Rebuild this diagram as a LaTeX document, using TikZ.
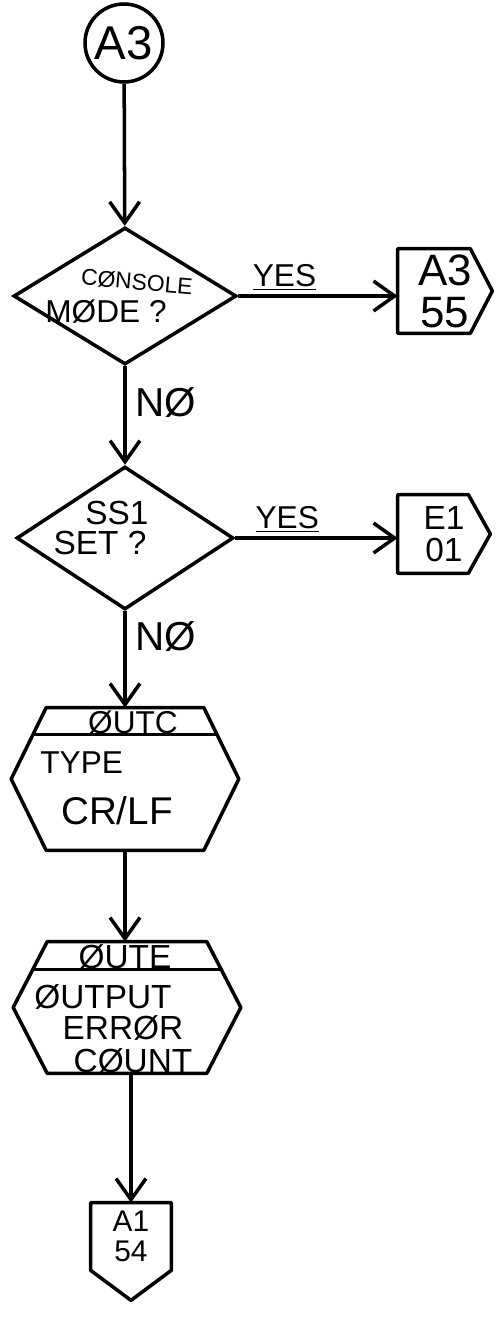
\documentclass[tikz,border=0pt]{standalone}
\usepackage{fontspec}
\setmainfont{Liberation Sans}
\usepackage{tikz}
\usetikzlibrary{arrows.meta, positioning, shapes.geometric, calc}

\begin{document}
\begin{tikzpicture}[
  x=0.02cm, y=-0.02cm,
  outline/.style={line width=2pt, line join=round},
  flow/.style={-{Straight Barb[length=12pt, width=17pt]}, line width=2pt},
  term/.style={
    circle, draw, line width=2pt, minimum size=1.56cm, inner sep=0pt,
    font=\fontsize{27}{30}\selectfont},
  decide/.style={diamond, draw, line width=2pt, inner sep=0pt},
  frame/.style={rectangle, inner sep=0pt, align=center},
  ans/.style={font=\fontsize{18}{20}\selectfont, inner sep=2pt},
  no/.style={font=\fontsize{23}{25}\selectfont, inner sep=5pt},
  txt/.style={
    font=\fontsize{19}{21}\selectfont, inner sep=0pt,
    text height=13.5pt, text depth=0pt},
  hdr/.style={font=\fontsize{18}{20}\selectfont, inner sep=0pt, anchor=base},
]
  \useasboundingbox (0,0) rectangle (498,1332);

  %% ─── ENTRY ───────────────────────────────────────────────────────────
  \node[term] (a3) at (124,43) {A3};

  %% ─── CONSOLE MODE ? ──────────────────────────────────────────────────
  \node[decide, minimum width=4.46cm, minimum height=2.74cm] (d1) at (125,296) {};
  \node[txt, font=\fontsize{13}{15}\selectfont, text height=10pt, rotate=-5]
    (d1a) at (137,281) {CØNSOLE};
  \node[txt, font=\fontsize{18}{20}\selectfont, text height=13pt]
    (d1b) at (106,311) {MØDE ?};

  \node[frame, minimum width=1.88cm, minimum height=1.68cm,
    font=\fontsize{25}{24}\selectfont] (c1) at (445,291) {A3\\55};
  \draw[outline] (c1.north west) -- ($(c1.north east)+(-22,0)$) -- (c1.east)
    -- ($(c1.south east)+(-22,0)$) -- (c1.south west) -- cycle;

  \draw[flow] (a3) -- (d1);
  \draw[flow] (d1.east) -- node[ans, above, pos=0.29] (y1) {\underline{YES}}
    (d1.east -| c1.west);

  %% ─── SS1 SET ? ───────────────────────────────────────────────────────
  \node[decide, minimum width=4.34cm, minimum height=2.86cm] (d2) at (125,538) {};
  \node[txt] (d2a) at (117,513) {SS1};
  \node[txt] (d2b) at (100,543) {SET ?};

  \node[frame, minimum width=1.84cm, minimum height=1.56cm,
    font=\fontsize{19}{18}\selectfont] (c2) at (444,534) {E1\\01};
  \draw[outline] (c2.north west) -- ($(c2.north east)+(-22,0)$) -- (c2.east)
    -- ($(c2.south east)+(-22,0)$) -- (c2.south west) -- cycle;

  \draw[flow] (d1) -- node[no, right, pos=0.37] (n1) {NØ} (d2);
  \draw[flow] (d2.east) -- node[ans, above, pos=0.32] (y2) {\underline{YES}}
    (d2.east -| c2.west);

  %% ─── OUTC: type CR/LF ────────────────────────────────────────────────
  \node[frame, minimum width=4.54cm, minimum height=2.84cm] (h1) at (125,779) {};
  \draw[outline] (h1.west) -- ($(h1.north west)+(35,0)$) -- ($(h1.north east)+(-35,0)$)
    -- (h1.east) -- ($(h1.south east)+(-35,0)$) -- ($(h1.south west)+(35,0)$) -- cycle;
  \draw[outline] ($(h1.north west)+(21.7,27)$) -- ($(h1.north east)+(-21.7,27)$);
  \node[hdr] (h1a) at (133,733) {ØUTC};
  \node[txt, font=\fontsize{18}{20}\selectfont, anchor=west] (h1b) at (40,762) {TYPE};
  \node[txt, font=\fontsize{22}{24}\selectfont, text height=16pt] (h1c) at (117,810) {CR/LF};

  \draw[flow] (d2) -- node[no, right, pos=0.26] (n2) {NØ} (h1);

  %% ─── OUTE: output error count ────────────────────────────────────────
  \node[frame, minimum width=4.54cm, minimum height=2.62cm] (h2) at (127,1007.5) {};
  \draw[outline] (h2.west) -- ($(h2.north west)+(34,0)$) -- ($(h2.north east)+(-34,0)$)
    -- (h2.east) -- ($(h2.south east)+(-34,0)$) -- ($(h2.south west)+(34,0)$) -- cycle;
  \draw[outline] ($(h2.north west)+(19.5,28)$) -- ($(h2.north east)+(-19.5,28)$);
  \node[hdr, font=\fontsize{19}{21}\selectfont] (h2a) at (125,968) {ØUTE};
  \node[txt] (h2b) at (103,997) {ØUTPUT};
  \node[txt] (h2c) at (123,1028) {ERRØR};
  \node[txt] (h2d) at (133,1061) {CØUNT};

  \draw[flow] (h1) -- (h1 |- h2.north);

  %% ─── EXIT ────────────────────────────────────────────────────────────
  \node[frame, minimum width=1.6cm, minimum height=1.34cm,
    font=\fontsize{17}{17}\selectfont] (c3) at (131,1236.5) {A1\\54};
  \draw[outline] (c3.north west) -- (c3.north east) -- (c3.south east)
    -- ($(c3.south)+(0,30)$) -- (c3.south west) -- cycle;

  \draw[flow] (c3 |- h2.south) -- (c3.north);
\end{tikzpicture}
\end{document}
